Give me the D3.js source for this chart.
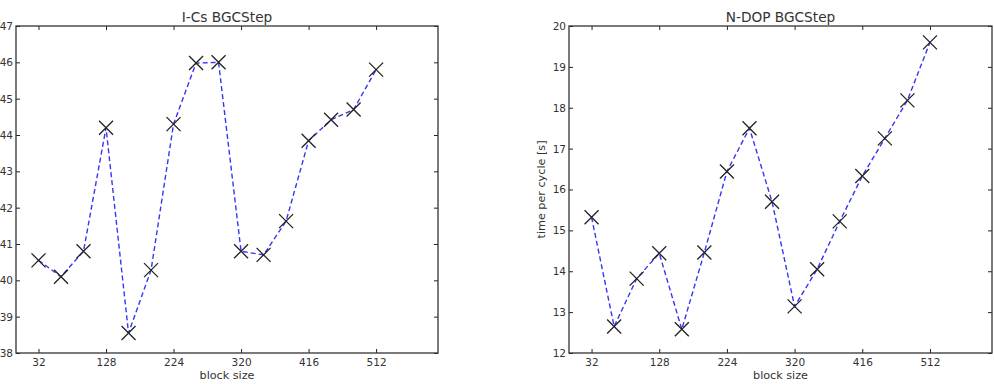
<!DOCTYPE html>
<html>
<head>
<meta charset="utf-8">
<script src="https://cdn.jsdelivr.net/npm/d3@7"></script>
<style>
  body { margin: 0; background: #fff; }
  svg { display: block; font-family: "DejaVu Sans", sans-serif; }
  .tick text { fill: #333; }
</style>
</head>
<body>
<script>
// block sizes shared by both panels
var blockSizes = [32, 64, 96, 128, 160, 192, 224, 256, 288, 320, 352, 384, 416, 448, 480, 512];
var xTicks = [32, 128, 224, 320, 416, 512];

// I-Cs BGCStep timings
var icsTimes = [40.55, 40.1, 40.8, 44.2, 38.55, 40.28, 44.3, 45.98, 46.0, 40.8, 40.7, 41.63, 43.84, 44.42, 44.7, 45.8];
var icsTicks = [38, 39, 40, 41, 42, 43, 44, 45, 46, 47];

// N-DOP BGCStep timings
var ndopTimes = [15.32, 12.65, 13.82, 14.44, 12.58, 14.46, 16.44, 17.5, 15.7, 13.14, 14.05, 15.22, 16.33, 17.25, 18.18, 19.6];
var ndopTicks = [12, 13, 14, 15, 16, 17, 18, 19, 20];

var width = 994, height = 384;
var svg = d3.select("body").append("svg").attr("width", width).attr("height", height);

var panels = [
  { title: "I-Cs BGCStep", values: icsTimes, ticks: icsTicks, left: 16, right: 438, ylabel: null },
  { title: "N-DOP BGCStep", values: ndopTimes, ticks: ndopTicks, left: 569, right: 992, ylabel: "time per cycle [s]" }
];
var plotTop = 26, plotBottom = 353;

panels.forEach(function (p) {
  var x = d3.scaleLinear().domain([0, 600]).range([p.left, p.right]);
  var y = d3.scaleLinear().domain(d3.extent(p.ticks)).range([plotBottom, plotTop]);
  var g = svg.append("g");

  // axes, ticks point inward on all four sides
  var bottomAxis = d3.axisBottom(x).tickValues(xTicks).tickSizeInner(-4).tickSizeOuter(0).tickPadding(6);
  var topAxis = d3.axisTop(x).tickValues(xTicks).tickSizeInner(-4).tickSizeOuter(0).tickFormat("");
  var leftAxis = d3.axisLeft(y).tickValues(p.ticks).tickSizeInner(-4).tickSizeOuter(0).tickPadding(3);
  var rightAxis = d3.axisRight(y).tickValues(p.ticks).tickSizeInner(-4).tickSizeOuter(0).tickFormat("");

  g.append("g").attr("transform", "translate(0," + plotBottom + ")").call(bottomAxis);
  g.append("g").attr("transform", "translate(0," + plotTop + ")").call(topAxis);
  g.append("g").attr("transform", "translate(" + p.left + ",0)").call(leftAxis);
  g.append("g").attr("transform", "translate(" + p.right + ",0)").call(rightAxis);

  g.selectAll(".domain").remove();
  g.selectAll(".tick line").attr("stroke", "#222");
  g.selectAll(".tick text").attr("font-size", 10.5).attr("font-family", "DejaVu Sans");

  g.append("rect")
    .attr("x", p.left).attr("y", plotTop)
    .attr("width", p.right - p.left).attr("height", plotBottom - plotTop)
    .attr("fill", "none").attr("stroke", "#333").attr("stroke-width", 1.3);

  // dashed blue line
  var line = d3.line()
    .x(function (d, i) { return x(blockSizes[i]); })
    .y(function (d) { return y(d); });
  g.append("path").datum(p.values)
    .attr("d", line)
    .attr("fill", "none")
    .attr("stroke", "#3535f5")
    .attr("stroke-width", 1.4)
    .attr("stroke-dasharray", "5,3");

  // x markers
  var s = 7;
  g.selectAll(".mark").data(p.values).enter().append("path")
    .attr("class", "mark")
    .attr("d", function (d, i) {
      var cx = x(blockSizes[i]), cy = y(d);
      return "M" + (cx - s) + "," + (cy - s) + "L" + (cx + s) + "," + (cy + s) +
             "M" + (cx - s) + "," + (cy + s) + "L" + (cx + s) + "," + (cy - s);
    })
    .attr("stroke", "#222")
    .attr("stroke-width", 1.3)
    .attr("fill", "none");

  g.append("text")
    .attr("x", (p.left + p.right) / 2).attr("y", 21.5)
    .attr("text-anchor", "middle")
    .attr("font-size", 13.7).attr("fill", "#333")
    .text(p.title);

  g.append("text")
    .attr("x", (p.left + p.right) / 2).attr("y", 379)
    .attr("text-anchor", "middle")
    .attr("font-size", 11.2).attr("fill", "#333")
    .text("block size");

  if (p.ylabel) {
    g.append("text")
      .attr("transform", "translate(" + (p.left - 24) + "," + ((plotTop + plotBottom) / 2) + ") rotate(-90)")
      .attr("text-anchor", "middle")
      .attr("font-size", 11.2).attr("fill", "#333")
      .text(p.ylabel);
  }
});
</script>
</body>
</html>
